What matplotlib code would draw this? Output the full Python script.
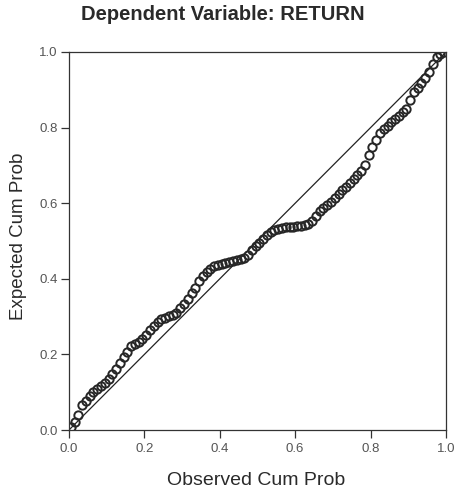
import matplotlib
matplotlib.use("Agg")
import matplotlib.pyplot as plt

plt.rcParams['font.family'] = ['Liberation Sans', 'DejaVu Sans']

# observed cumulative probability (x) and expected (y)
observed = [0.005, 0.015, 0.025, 0.035, 0.045, 0.055, 0.065, 0.075, 0.085, 0.095,
            0.105, 0.115, 0.125, 0.135, 0.145, 0.155, 0.165, 0.175, 0.185, 0.195,
            0.205, 0.215, 0.225, 0.235, 0.245, 0.255, 0.265, 0.275, 0.285, 0.295,
            0.305, 0.315, 0.325, 0.335, 0.345, 0.355, 0.365, 0.375, 0.385, 0.395,
            0.405, 0.415, 0.425, 0.435, 0.445, 0.455, 0.465, 0.475, 0.485, 0.495,
            0.505, 0.515, 0.525, 0.535, 0.545, 0.555, 0.565, 0.575, 0.585, 0.595,
            0.605, 0.615, 0.625, 0.635, 0.645, 0.655, 0.665, 0.675, 0.685, 0.695,
            0.705, 0.715, 0.725, 0.735, 0.745, 0.755, 0.765, 0.775, 0.785, 0.795,
            0.805, 0.815, 0.825, 0.835, 0.845, 0.855, 0.865, 0.875, 0.885, 0.895,
            0.905, 0.915, 0.925, 0.935, 0.945, 0.955, 0.965, 0.975, 0.985, 0.995]
expected = [0.008, 0.020, 0.040, 0.065, 0.078, 0.090, 0.100, 0.108, 0.116, 0.125,
            0.135, 0.148, 0.162, 0.177, 0.192, 0.207, 0.221, 0.227, 0.233, 0.240,
            0.252, 0.265, 0.276, 0.286, 0.293, 0.297, 0.301, 0.305, 0.310, 0.322,
            0.334, 0.347, 0.362, 0.377, 0.393, 0.407, 0.419, 0.427, 0.433, 0.437,
            0.440, 0.443, 0.445, 0.447, 0.449, 0.452, 0.456, 0.463, 0.475, 0.486,
            0.496, 0.505, 0.516, 0.525, 0.529, 0.532, 0.534, 0.536, 0.537, 0.538,
            0.539, 0.540, 0.542, 0.545, 0.553, 0.566, 0.579, 0.587, 0.595, 0.604,
            0.614, 0.625, 0.634, 0.643, 0.653, 0.664, 0.675, 0.684, 0.700, 0.727,
            0.749, 0.768, 0.786, 0.796, 0.805, 0.815, 0.824, 0.832, 0.840, 0.850,
            0.873, 0.893, 0.905, 0.917, 0.932, 0.947, 0.968, 0.988, 0.995, 0.999]

ticks = [0.0, 0.2, 0.4, 0.6, 0.8, 1.0]
tick_labels = ["0.0", "0.2", "0.4", "0.6", "0.8", "1.0"]

fig = plt.figure(figsize=(4.55, 4.91), dpi=100)
ax = fig.add_axes([0.1516, 0.1242, 0.8286, 0.7699])

ax.plot([0, 1], [0, 1], color="#222222", lw=0.9)
ax.plot(observed, expected, linestyle="none", marker="o", markersize=6,
        markerfacecolor="none", markeredgecolor="#262626", markeredgewidth=1.4)

ax.set_xlim(0, 1)
ax.set_ylim(0, 1)
ax.set_xticks(ticks)
ax.set_xticklabels(tick_labels)
ax.set_yticks(ticks)
ax.set_yticklabels(tick_labels)
ax.tick_params(direction="out", length=6, width=0.9, labelsize=9.5,
               colors="#333333", labelcolor="#555555")
ax.tick_params(axis="x", pad=3)
ax.tick_params(axis="y", pad=2)
for s in ax.spines.values():
    s.set_color("#333333")
    s.set_linewidth(0.9)

fig.text(0.49, 0.971, "Dependent Variable: RETURN", ha="center", va="center",
         fontsize=14.5, fontweight="bold", color="#2a2a2a")
fig.text(0.563, 0.022, "Observed Cum Prob", ha="center", va="center",
         fontsize=14, color="#2a2a2a")
fig.text(0.041, 0.519, "Expected Cum Prob", ha="center", va="center",
         rotation=90, fontsize=13.5, color="#2a2a2a")

fig.savefig("out.png", dpi=100)
